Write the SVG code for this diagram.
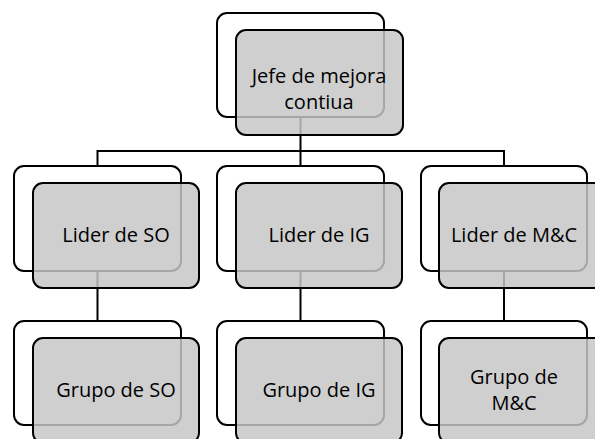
<svg xmlns="http://www.w3.org/2000/svg" width="595" height="439" viewBox="0 0 595 439">
<style>
.back{fill:none;stroke:#000;stroke-width:2}
.front{fill:#c6c6c6;fill-opacity:0.84;stroke:#000;stroke-width:2}
.conn{fill:none;stroke:#000;stroke-width:2}
text{font-family:"Open Sans","Liberation Sans",sans-serif;font-size:20px;fill:#000;text-anchor:middle}
</style>
<rect width="595" height="439" fill="#fff"/>
<g id="connectors">
<path class="conn" d="M300.5 117V151M97.5 151H504M97.5 150V166M300.5 151V166M504 150V166"/>
<path class="conn" d="M97.5 271V321M300.5 271V321M504 271V321"/>
</g>
<g id="node-jefe">
<rect class="back" x="217" y="13" width="167" height="104" rx="10"/>
<rect class="front" x="236" y="30" width="167" height="105" rx="10"/>
<text x="319" y="83">Jefe de mejora</text>
<text x="319" y="109">contiua</text>
</g>
<g id="node-lider-so">
<rect class="back" x="14" y="166" width="167" height="105" rx="10"/>
<rect class="front" x="33" y="183" width="166" height="105" rx="10"/>
<text x="116" y="242">Lider de SO</text>
</g>
<g id="node-lider-ig">
<rect class="back" x="217" y="166" width="167" height="105" rx="10"/>
<rect class="front" x="236" y="183" width="166" height="105" rx="10"/>
<text x="319" y="242">Lider de IG</text>
</g>
<g id="node-lider-mc">
<rect class="back" x="421" y="166" width="166" height="105" rx="10"/>
<rect class="front" x="439" y="183" width="167" height="105" rx="10"/>
<text x="514" y="242">Lider de M&amp;C</text>
</g>
<g id="node-grupo-so">
<rect class="back" x="14" y="321" width="167" height="104" rx="10"/>
<rect class="front" x="33" y="338" width="166" height="105" rx="10"/>
<text x="116" y="397">Grupo de SO</text>
</g>
<g id="node-grupo-ig">
<rect class="back" x="217" y="321" width="167" height="104" rx="10"/>
<rect class="front" x="236" y="338" width="166" height="105" rx="10"/>
<text x="319" y="397">Grupo de IG</text>
</g>
<g id="node-grupo-mc">
<rect class="back" x="421" y="321" width="166" height="104" rx="10"/>
<rect class="front" x="439" y="338" width="167" height="105" rx="10"/>
<text x="514" y="384">Grupo de</text>
<text x="514" y="410">M&amp;C</text>
</g>
</svg>
